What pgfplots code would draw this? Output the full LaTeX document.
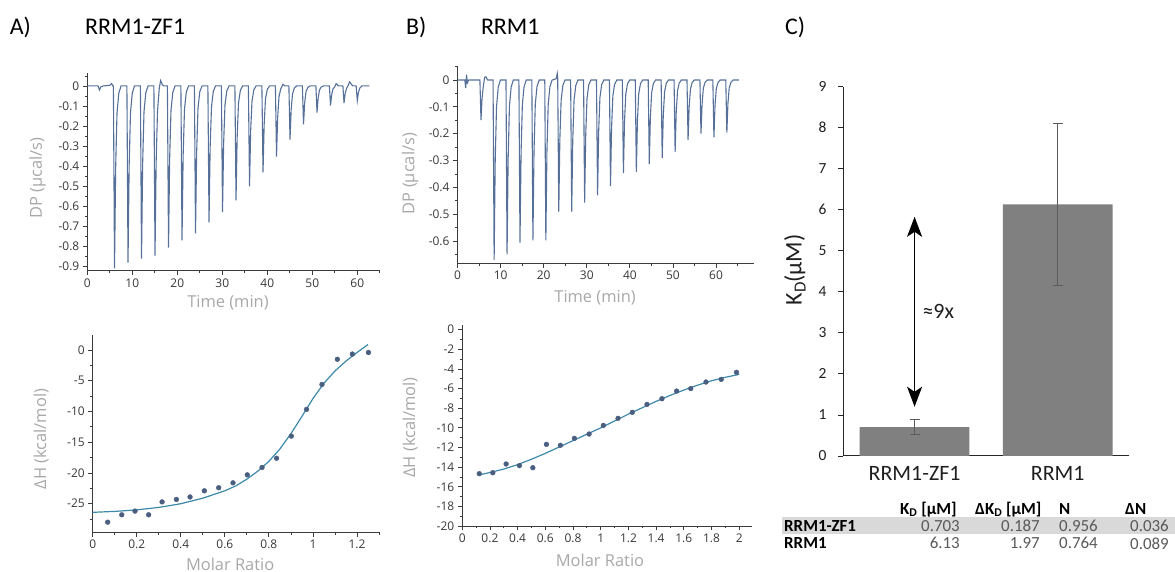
\documentclass[border=0pt]{standalone}
\usepackage{pgfplots}
\pgfplotsset{compat=1.18}
\usepackage{fontspec}
\setmainfont{Carlito}
\newfontfamily\itcfont{Open Sans}
\usetikzlibrary{arrows.meta}
\definecolor{trace}{HTML}{56709A}
\definecolor{fitc}{HTML}{3D89AB}
\definecolor{pts}{HTML}{4A5E80}
\definecolor{axc}{HTML}{3C3C3C}
\definecolor{labc}{HTML}{A8A8A8}
\definecolor{tickc}{HTML}{383838}
\definecolor{barc}{HTML}{808080}
\definecolor{errc}{HTML}{5C5C5C}
\definecolor{bandc}{HTML}{D9D9D9}
\definecolor{valc}{HTML}{595959}

\pgfplotsset{
  itc/.style={
    scale only axis, anchor=south west,
    axis x line*=bottom, axis y line*=left,
    axis line style={axc, line width=0.9bp},
    every tick/.style={axc, line width=0.8bp},
    tick align=outside,
    major tick length=4.5bp, minor tick length=2.5bp,
    /pgf/number format/assume math mode=true,
    tick label style={font=\itcfont\fontsize{12}{13}\selectfont, text=tickc},
    label style={font=\itcfont\fontsize{16.5}{18}\selectfont, text=labc},
  },
}

\begin{document}
\begin{tikzpicture}
\useasboundingbox (0bp,0bp) rectangle (1175bp,572bp);

% titles
\begin{scope}[every node/.style={anchor=west, font=\fontsize{24}{26}\selectfont, inner sep=0}]
\node at (9.6bp,545bp) {A)};
\node at (85bp,545bp) {RRM1-ZF1};
\node at (405.8bp,545bp) {B)};
\node at (480.8bp,545bp) {RRM1};
\node at (785bp,545bp) {C)};
\end{scope}

% ---------------- A top: raw ITC trace
\begin{axis}[itc, at={(87.3bp,301.3bp)}, width=292.5bp, height=197.4bp,
  xmin=0, xmax=65, ymin=-0.92, ymax=0.063,
  xtick={0,10,20,30,40,50,60}, minor xtick={5,15,25,35,45,55,65},
  ytick={-0.9,-0.8,-0.7,-0.6,-0.5,-0.4,-0.3,-0.2,-0.1,0},
  minor ytick={-0.85,-0.75,-0.65,-0.55,-0.45,-0.35,-0.25,-0.15,-0.05,0.05},
  xlabel={Time (min)}, ylabel={DP (µcal/s)},
  xlabel style={at={(axis description cs:0.481,-0.164)}, anchor=center},
  ylabel style={at={(axis description cs:-0.17,0.47)}, anchor=center},
]
\addplot[trace, line width=1.1bp] coordinates {
(0,0)(2.4,0)(2.7,-0.02)(3.0,-0.005)(3.5,0)(5.0,0.003)(5.4,0.012)(5.65,0)
(5.8,0)(6.05,-0.908)(6.3,-0.409)(6.6,-0.136)(7.0,-0.036)(7.5,0)
(8.8,0)(9.05,-0.88)(9.3,-0.396)(9.6,-0.132)(10.0,-0.035)(10.5,0)
(11.8,0)(12.05,-0.86)(12.3,-0.387)(12.6,-0.129)(13.0,-0.034)(13.5,0)
(14.8,0)(15.05,-0.845)(15.3,-0.38)(15.6,-0.127)(16.0,-0.01)(16.3,0.027)(16.7,0.005)(17.0,0)
(17.8,0)(18.05,-0.805)(18.3,-0.362)(18.6,-0.121)(19.0,-0.032)(19.5,0)
(20.8,0)(21.05,-0.769)(21.3,-0.346)(21.6,-0.115)(22.0,-0.031)(22.5,0)
(23.8,0)(24.05,-0.734)(24.3,-0.33)(24.6,-0.11)(25.0,-0.029)(25.5,0)
(26.8,0)(27.05,-0.679)(27.3,-0.306)(27.6,-0.102)(28.0,-0.027)(28.5,0)
(29.8,0)(30.05,-0.628)(30.3,-0.283)(30.6,-0.094)(31.0,-0.025)(31.5,0)
(32.8,0)(33.05,-0.57)(33.3,-0.257)(33.6,-0.086)(34.0,-0.023)(34.5,0)
(35.8,0)(36.05,-0.5)(36.3,-0.225)(36.6,-0.075)(37.0,-0.02)(37.5,0)
(38.8,0)(39.05,-0.43)(39.3,-0.194)(39.6,-0.065)(40.0,-0.017)(40.5,0)
(41.8,0)(42.05,-0.352)(42.3,-0.158)(42.6,-0.053)(43.0,-0.014)(43.5,0.008)(43.9,0)
(44.8,0)(45.05,-0.267)(45.3,-0.12)(45.6,-0.04)(46.0,-0.011)(46.5,0)
(47.8,0)(48.05,-0.191)(48.3,-0.086)(48.6,-0.029)(49.0,-0.008)(49.5,0)
(50.8,0)(51.05,-0.133)(51.3,-0.06)(51.6,-0.02)(52.0,-0.005)(52.5,0)
(53.8,0)(54.05,-0.098)(54.3,-0.044)(54.6,-0.015)(55.0,-0.004)(55.3,0.012)(55.8,0)
(56.8,0)(57.05,-0.085)(57.3,-0.038)(57.6,-0.013)(58.0,0.005)(58.3,0.02)(58.7,0.008)(59.0,0)
(59.75,0)(60.0,-0.073)(60.25,-0.033)(60.55,-0.011)(61.0,0)(62.7,0)
};
\end{axis}

% ---------------- A bottom: isotherm
\begin{axis}[itc, at={(92.7bp,40bp)}, width=286.3bp, height=196.7bp,
  xmin=0, xmax=1.3, ymin=-29.6, ymax=2.4,
  xtick={0,0.2,0.4,0.6,0.8,1,1.2}, minor xtick={0.1,0.3,0.5,0.7,0.9,1.1,1.3},
  ytick={-25,-20,-15,-10,-5,0}, minor ytick={-27.5,-22.5,-17.5,-12.5,-7.5,-2.5},
  xlabel={Molar Ratio}, ylabel={ΔH (kcal/mol)},
  xlabel style={at={(axis description cs:0.48,-0.163)}, anchor=center},
  ylabel style={at={(axis description cs:-0.18,0.473)}, anchor=center},
]
\addplot[fitc, line width=1.2bp] coordinates {
(0,-26.4)(0.1,-26.25)(0.2,-26.0)(0.3,-25.6)(0.4,-25.0)(0.5,-24.1)(0.6,-22.9)
(0.65,-22.1)(0.7,-21.0)(0.75,-19.7)(0.8,-18.1)(0.85,-16.1)(0.9,-13.6)(0.95,-10.8)
(1.0,-7.9)(1.05,-5.4)(1.1,-3.4)(1.15,-1.8)(1.2,-0.4)(1.25,0.9)
};
\addplot[only marks, mark=*, mark size=2.4bp, pts] coordinates {
(0.068,-28.0)(0.132,-26.8)(0.192,-26.2)(0.254,-26.8)(0.315,-24.7)(0.380,-24.3)
(0.442,-23.9)(0.507,-22.9)(0.572,-22.4)(0.637,-21.6)(0.702,-20.3)(0.769,-19.1)
(0.835,-17.6)(0.902,-14.0)(0.971,-9.65)(1.041,-5.6)(1.111,-1.5)(1.179,-0.65)(1.252,-0.4)
};
\end{axis}

% ---------------- B top: raw ITC trace
\begin{axis}[itc, at={(457.5bp,308.7bp)}, width=296.5bp, height=197.2bp,
  xmin=0, xmax=68.8, ymin=-0.683, ymax=0.052,
  xtick={0,10,20,30,40,50,60}, minor xtick={5,15,25,35,45,55,65},
  ytick={-0.6,-0.5,-0.4,-0.3,-0.2,-0.1,0},
  minor ytick={-0.65,-0.55,-0.45,-0.35,-0.25,-0.15,-0.05,0.05},
  xlabel={Time (min)}, ylabel={DP (µcal/s)},
  xlabel style={at={(axis description cs:0.464,-0.176)}, anchor=center},
  ylabel style={at={(axis description cs:-0.16,0.455)}, anchor=center},
]
\addplot[trace, line width=1.1bp] coordinates {
(0,0)(1.7,0)(1.9,-0.03)(2.1,0.02)(2.3,-0.01)(2.6,0)
(5.2,0)(5.45,-0.149)(5.7,-0.067)(6.0,-0.022)(6.3,0.01)(6.6,0.012)(7.0,0)
(8.25,0)(8.5,-0.67)(8.75,-0.302)(9.05,-0.1)(9.45,-0.027)(9.95,0)
(11.25,0)(11.5,-0.65)(11.75,-0.293)(12.05,-0.098)(12.45,-0.026)(12.95,0)
(14.25,0)(14.5,-0.606)(14.75,-0.273)(15.05,-0.091)(15.45,-0.024)(15.95,0)
(17.25,0)(17.5,-0.598)(17.75,-0.269)(18.05,-0.09)(18.45,-0.024)(18.95,0)
(20.25,0)(20.5,-0.598)(20.75,-0.269)(21.05,-0.09)(21.45,-0.024)(21.95,0)
(22.9,0.005)(23.15,0.025)(23.25,0.01)(23.5,-0.49)(23.75,-0.221)(24.05,-0.074)(24.45,-0.02)(24.95,0)
(26.25,0)(26.5,-0.49)(26.75,-0.221)(27.05,-0.074)(27.45,-0.02)(27.95,0)
(29.25,0)(29.5,-0.457)(29.75,-0.206)(30.05,-0.069)(30.45,-0.018)(30.95,0)
(32.25,0)(32.5,-0.43)(32.75,-0.194)(33.05,-0.065)(33.45,-0.017)(33.95,0)
(35.25,0)(35.5,-0.395)(35.75,-0.178)(36.05,-0.059)(36.45,-0.016)(36.95,0)
(38.25,0)(38.5,-0.347)(38.75,-0.156)(39.05,-0.052)(39.45,-0.014)(39.95,0)
(41.25,0)(41.5,-0.342)(41.75,-0.154)(42.05,-0.051)(42.45,-0.014)(42.95,0)
(44.25,0)(44.5,-0.313)(44.75,-0.141)(45.05,-0.047)(45.45,-0.013)(45.95,0)
(47.25,0)(47.5,-0.29)(47.75,-0.131)(48.05,-0.044)(48.45,-0.012)(48.95,0)
(50.25,0)(50.5,-0.268)(50.75,-0.121)(51.05,-0.04)(51.45,-0.011)(51.95,0)
(53.25,0)(53.5,-0.224)(53.75,-0.101)(54.05,-0.034)(54.45,-0.009)(54.95,0)
(56.25,0)(56.5,-0.2)(56.75,-0.09)(57.05,-0.03)(57.45,-0.008)(57.95,0)
(59.25,0)(59.5,-0.214)(59.75,-0.096)(60.05,-0.032)(60.45,-0.009)(60.95,0)
(62.25,0)(62.5,-0.196)(62.75,-0.088)(63.05,-0.029)(63.45,-0.008)(63.95,0)(65.3,0)
};
\end{axis}

% ---------------- B bottom: isotherm
\begin{axis}[itc, at={(462.2bp,46bp)}, width=289.5bp, height=201.2bp,
  xmin=0, xmax=2.09, ymin=-20, ymax=0.5,
  xtick={0,0.2,0.4,0.6,0.8,1,1.2,1.4,1.6,1.8,2},
  minor xtick={0.1,0.3,0.5,0.7,0.9,1.1,1.3,1.5,1.7,1.9},
  ytick={-20,-18,-16,-14,-12,-10,-8,-6,-4,-2,0},
  minor ytick={-19,-17,-15,-13,-11,-9,-7,-5,-3,-1},
  xlabel={Molar Ratio}, ylabel={ΔH (kcal/mol)},
  xlabel style={at={(axis description cs:0.476,-0.17)}, anchor=center},
  ylabel style={at={(axis description cs:-0.18,0.49)}, anchor=center},
]
\addplot[fitc, line width=1.2bp] coordinates {
(0.12,-14.8)(0.2,-14.55)(0.3,-14.2)(0.4,-13.75)(0.5,-13.2)(0.6,-12.6)(0.7,-11.95)
(0.8,-11.3)(0.9,-10.65)(1.0,-10.0)(1.1,-9.3)(1.2,-8.6)(1.3,-7.95)(1.4,-7.3)
(1.5,-6.7)(1.6,-6.15)(1.7,-5.65)(1.8,-5.2)(1.9,-4.85)(2.0,-4.55)
};
\addplot[only marks, mark=*, mark size=2.4bp, pts] coordinates {
(0.123,-14.67)(0.221,-14.57)(0.317,-13.68)(0.413,-13.85)(0.510,-14.06)(0.608,-11.68)
(0.709,-11.78)(0.810,-11.07)(0.916,-10.63)(1.019,-9.75)(1.125,-9.03)(1.228,-8.42)
(1.334,-7.61)(1.442,-7.03)(1.548,-6.25)(1.65,-6.0)(1.76,-5.33)(1.87,-5.06)(1.98,-4.34)
};
\end{axis}

% ---------------- C: KD bar chart
\begin{axis}[at={(843bp,116bp)}, anchor=south west, scale only axis,
  width=286.3bp, height=369.3bp,
  xmin=0.5, xmax=2.5, ymin=0, ymax=9,
  axis x line*=bottom, axis y line*=left,
  axis line style={black!85, line width=1bp},
  xtick={1,2}, xticklabels={RRM1-ZF1,RRM1},
  x tick style={draw=none},
  ytick={0,1,2,3,4,5,6,7,8,9},
  y tick style={black!85, line width=0.9bp},
  tick align=outside, major tick length=5bp,
  /pgf/number format/assume math mode=true,
  yticklabel style={font=\fontsize{15.5}{16}\selectfont, text=black!88, xshift=-8bp},
  xticklabel style={font=\fontsize{22}{24}\selectfont, text=black!88, yshift=-2bp},
  ylabel={K\raisebox{-0.35ex}{\fontsize{17}{18}\selectfont D}(µM)},
  ylabel style={font=\fontsize{24}{26}\selectfont, text=black!88, at={(axis description cs:-0.168,0.504)}, anchor=center},
  ybar, bar width=109.7bp, bar shift=0,
]
\addplot[fill=barc, draw=none,
  error bars/.cd, y dir=both, y explicit,
  error bar style={errc, line width=0.9bp},
  error mark options={rotate=90, mark size=5bp, errc, line width=0.9bp}]
  coordinates {(1,0.703) +- (0,0.187) (2,6.13) +- (0,1.97)};
\draw[{Stealth[length=20bp,width=15bp,inset=5bp]}-{Stealth[length=20bp,width=15bp,inset=5bp]}, line width=1.8bp, black]
  (axis cs:1,1.2) -- (axis cs:1,5.83);
\node[anchor=west, inner sep=0, font=\fontsize{22}{24}\selectfont, text=black!88] at (axis cs:1.054,3.52) {≈9x};
\end{axis}

% ---------------- table
\fill[bandc] (782bp,38.2bp) rectangle (1175bp,54.8bp);
\begin{scope}[every node/.style={inner sep=0, font=\fontsize{17}{19}\selectfont}]
\node[anchor=west, font=\fontsize{17}{19}\selectfont\bfseries] at (900bp,62.5bp) {K\textsubscript{D} [µM]};
\node[anchor=west, font=\fontsize{17}{19}\selectfont\bfseries] at (975bp,62.5bp) {ΔK\textsubscript{D} [µM]};
\node[anchor=west, font=\fontsize{17}{19}\selectfont\bfseries] at (1059bp,62.5bp) {N};
\node[anchor=west, font=\fontsize{17}{19}\selectfont\bfseries] at (1125bp,62.5bp) {ΔN};
\node[anchor=west, font=\fontsize{17}{19}\selectfont\bfseries] at (784bp,46.3bp) {RRM1-ZF1};
\node[anchor=west, font=\fontsize{17}{19}\selectfont\bfseries] at (784bp,28.7bp) {RRM1};
\node[anchor=east, text=valc] at (960bp,46.3bp) {0.703};
\node[anchor=east, text=valc] at (1040bp,46.3bp) {0.187};
\node[anchor=east, text=valc] at (1098bp,46.3bp) {0.956};
\node[anchor=east, text=valc] at (1169bp,46.3bp) {0.036};
\node[anchor=east, text=valc] at (960bp,28.7bp) {6.13};
\node[anchor=east, text=valc] at (1040bp,28.7bp) {1.97};
\node[anchor=east, text=valc] at (1098bp,28.7bp) {0.764};
\node[anchor=east, text=valc] at (1169bp,28.7bp) {0.089};
\end{scope}
\end{tikzpicture}
\end{document}
